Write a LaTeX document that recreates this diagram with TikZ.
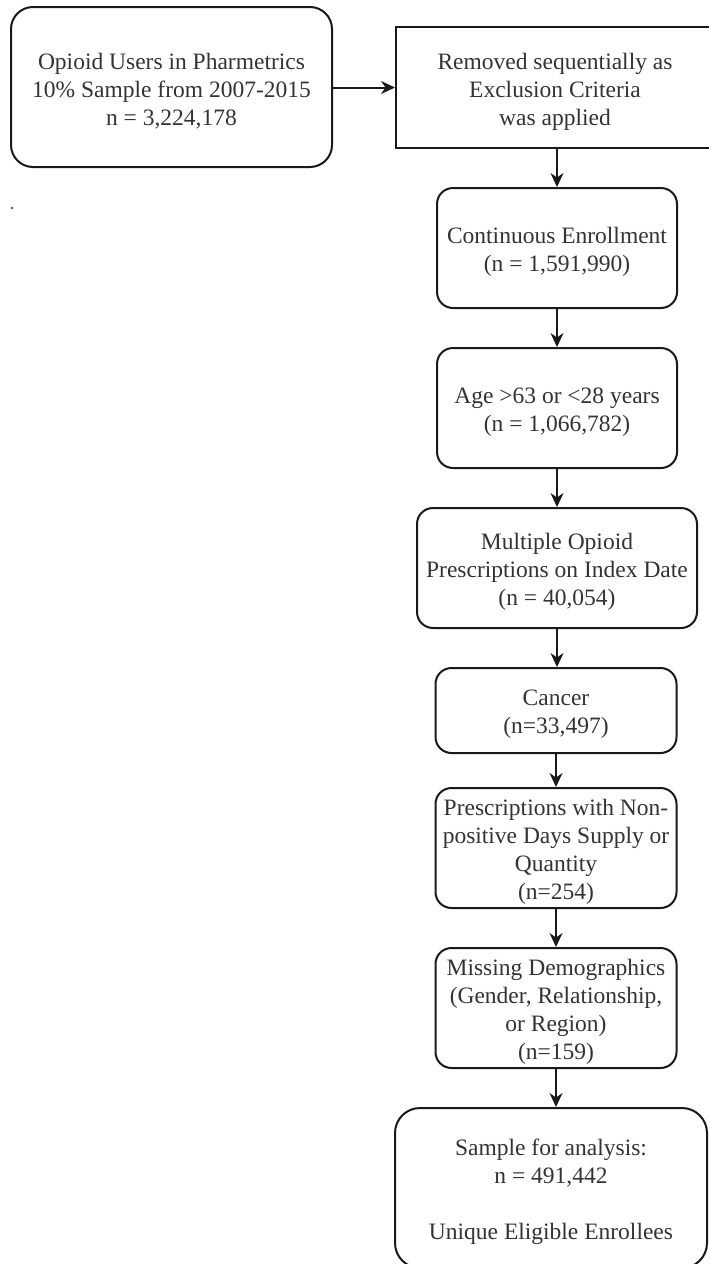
\documentclass[tikz,border=0pt]{standalone}
\usepackage{fontspec}
\setmainfont{Liberation Serif}
\usetikzlibrary{arrows.meta}
\begin{document}
\begin{tikzpicture}[x=1pt,y=-1pt,
  box/.style={draw=black!90,line width=2pt},
  rbox/.style={box,rounded corners=16pt},
  txt/.style={align=center,inner sep=0pt,yshift=-4pt,
    text=black!80,font=\fontsize{23.5}{28}\selectfont},
  arr/.style={draw=black!90,line width=2pt,-{Stealth[length=14pt,width=13pt]}}]
\useasboundingbox (0,0) rectangle (709,1264);
\node[box,rounded corners=22pt,minimum width=321pt,minimum height=160pt] (b1) at (171.5,87) {};
\node[box,minimum width=318pt,minimum height=121pt] (b2) at (555,87.5) {};
\node[rbox,minimum width=240pt,minimum height=120pt] (b3) at (557,248) {};
\node[rbox,minimum width=240pt,minimum height=120pt] (b4) at (557,408) {};
\node[rbox,minimum width=280pt,minimum height=120pt] (b5) at (557,568) {};
\node[rbox,minimum width=241pt,minimum height=85pt] (b6) at (556,710.5) {};
\node[rbox,minimum width=241pt,minimum height=120pt] (b7) at (556,848) {};
\node[rbox,minimum width=241pt,minimum height=120pt] (b8) at (556,1008) {};
\node[box,rounded corners=25pt,minimum width=312pt,minimum height=160pt] (b9) at (551,1188) {};
\node[txt] (t1) at (b1) {Opioid Users in Pharmetrics\\10\% Sample from 2007-2015\\n = 3,224,178};
\node[txt] (t2) at (b2) {Removed sequentially as\\Exclusion Criteria\\was applied};
\node[txt] (t3) at (b3) {Continuous Enrollment\\(n = 1,591,990)};
\node[txt] (t4) at (b4) {Age >63 or <28 years\\(n = 1,066,782)};
\node[txt] (t5) at (b5) {Multiple Opioid\\Prescriptions on Index Date\\(n = 40,054)};
\node[txt] (t6) at (b6) {Cancer\\(n=33,497)};
\node[txt] (t7) at (b7) {Prescriptions with Non-\\positive Days Supply or\\Quantity\\(n=254)};
\node[txt] (t8) at (b8) {Missing Demographics\\(Gender, Relationship,\\or Region)\\(n=159)};
\node[txt] (t9) at (b9) {Sample for analysis:\\n = 491,442\\[28pt]Unique Eligible Enrollees};
\fill[black!70] (12,208) circle (1.3pt);
\draw[arr] (b1.east |- b2.west) -- (b2.west);
\draw[arr] (b3.north |- b2.south) -- (b3.north);
\draw[arr] (b3.south) -- (b4.north);
\draw[arr] (b4.south) -- (b4.south |- b5.north);
\draw[arr] (b4.south |- b5.south) -- (b4.south |- b6.north);
\draw[arr] (b6.south) -- (b7.north);
\draw[arr] (b7.south) -- (b8.north);
\draw[arr] (b8.south) -- (b8.south |- b9.north);
\end{tikzpicture}
\end{document}
